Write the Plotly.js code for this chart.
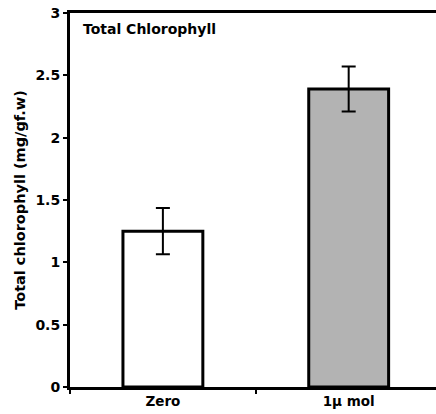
<!DOCTYPE html>
<html><head><meta charset="utf-8">
<script src="https://cdn.plot.ly/plotly-3.0.1.min.js"></script>
<style>html,body{margin:0;padding:0;background:#fff;}</style>
</head><body>
<div id="chart" style="width:436px;height:414px;"></div>
<script>
const categories = ["Zero", "1\u00b5 mol"];
const values = [1.25, 2.39];
const errors = [0.185, 0.18];
const colors = ["#ffffff", "#b3b3b3"];
const yTicks = [0, 0.5, 1, 1.5, 2, 2.5, 3];
const yTickLabels = ["0", "0.5", "1", "1.5", "2", "2.5", "3"];

const fam = "DejaVu Sans, Arial, sans-serif";
const bold = (size) => ({family: fam, size: size, color: "#000", weight: 700});
const b = (s) => "<b>" + s + "</b>";

const trace = {
  type: "bar",
  x: categories,
  y: values,
  width: 0.43,
  marker: {color: colors, line: {color: "#000", width: 3}},
  error_y: {type: "data", array: errors, visible: true, color: "#000", thickness: 2, width: 7},
  hoverinfo: "none"
};

const layout = {
  width: 436, height: 414,
  margin: {l: 70, r: 0, t: 13, b: 27},
  paper_bgcolor: "#fff", plot_bgcolor: "#fff",
  showlegend: false,
  xaxis: {
    type: "category",
    range: [-0.5, 1.47],
    tickmode: "array", tickvals: categories, ticktext: categories.map(b),
    showline: true, linecolor: "#000", linewidth: 3, mirror: true,
    ticks: "outside", tickson: "boundaries", ticklen: 4, tickwidth: 2, tickcolor: "#000",
    showgrid: false, zeroline: false,
    tickfont: bold(13.5)
  },
  yaxis: {
    range: [0, 3],
    tickmode: "array", tickvals: yTicks, ticktext: yTickLabels.map(b),
    showline: true, linecolor: "#000", linewidth: 3,
    ticks: "outside", ticklen: 4, tickwidth: 2, tickcolor: "#000",
    showgrid: false, zeroline: false,
    tickfont: bold(14),
    title: {text: b("Total chlorophyll (mg/gf.w)"), font: bold(14.5), standoff: 7}
  },
  annotations: [{
    text: b("Total Chlorophyll"), xref: "paper", yref: "paper",
    x: 0.03, y: 0.985, xanchor: "left", yanchor: "top", showarrow: false,
    font: bold(14)
  }]
};

Plotly.newPlot("chart", [trace], layout, {displayModeBar: false, staticPlot: true});
</script>
</body></html>
